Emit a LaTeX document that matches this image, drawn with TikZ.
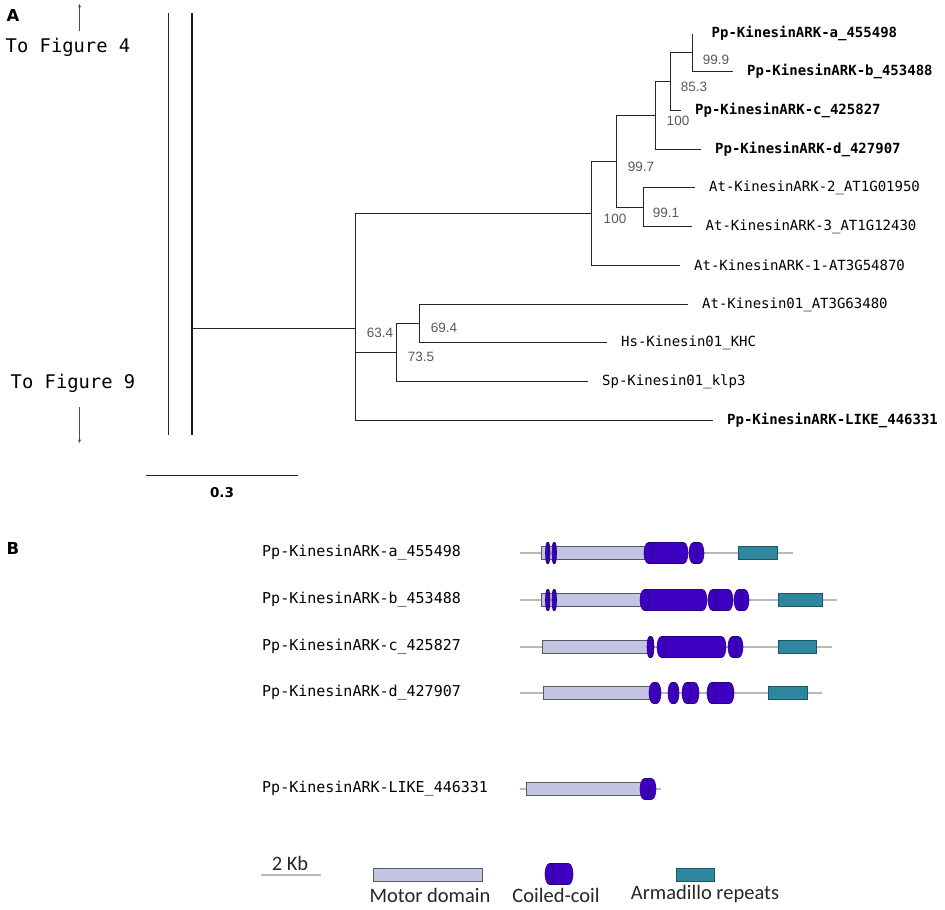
\documentclass[tikz,border=0pt]{standalone}
\usepackage{fontspec}
\setmainfont{Liberation Sans}
\newfontfamily\monofont{DejaVu Sans Mono}
\newfontfamily\panelfont{DejaVu Sans}
\newfontfamily\legfont{Carlito}
\usetikzlibrary{arrows.meta}
\definecolor{motorfill}{HTML}{C3C3E3}
\definecolor{coilfill}{HTML}{3D00C0}
\definecolor{coilline}{HTML}{2A0085}
\definecolor{armfill}{HTML}{2E879E}
\definecolor{armline}{HTML}{1E5565}
\tikzset{
  branch/.style={draw=black!85,line width=1.4pt},
  thinbar/.style={draw=black!85,line width=1.2pt},
  thickbar/.style={draw=black!90,line width=2.6pt},
  elbow/.style={to path={|- (\tikztotarget)}},
  leaf/.style={anchor=west,inner xsep=14pt,inner ysep=0pt,font=\monofont\fontsize{14}{16}\selectfont},
  ppleaf/.style={leaf,font=\monofont\bfseries\fontsize{14}{16}\selectfont},
  boot/.style={inner sep=0pt,text=black!65,font=\fontsize{13.5}{15}\selectfont},
  figtext/.style={inner sep=0pt,font=\monofont\fontsize{18.8}{21}\selectfont},
  figarrow/.style={draw=black!70,line width=0.8pt,-{Stealth[length=3.5pt,width=3pt]}},
  panel/.style={inner sep=0pt,font=\panelfont\bfseries\fontsize{16.5}{18}\selectfont},
  genelabel/.style={anchor=west,inner sep=0pt,font=\monofont\fontsize{15}{17}\selectfont},
  legendtext/.style={inner sep=0pt,text=black!85,font=\legfont\fontsize{20.5}{24}\selectfont},
  bbone/.style={draw=gray!60!black,line width=0.6pt,double=gray!55,double distance=1.7pt},
  motor/.style={draw=gray!70!black,fill=motorfill,line width=0.8pt},
  coil/.style={draw=coilline,fill=coilfill,line width=0.6pt},
  coilface/.style={draw=coilline!70!black,line width=0.5pt},
  armrep/.style={draw=armline,fill=armfill,line width=0.8pt}
}
\newcommand{\genebar}[3]{\draw[bbone] (#1,#3) -- (#2,#3);}
\newcommand{\motor}[3]{\draw[motor] (#1,#3-6.5) rectangle (#2,#3+6.5);}
\newcommand{\armad}[3]{\draw[armrep] (#1,#3-6.5) rectangle (#2,#3+6.5);}
\newcommand{\ccoil}[3]{%
  \pgfmathsetmacro\ccr{min(4.5,(#2-#1)*0.36)}%
  \draw[coil] (#1+\ccr,#3-10.5) -- (#2-\ccr,#3-10.5)
    arc[start angle=-90,end angle=90,x radius=\ccr,y radius=10.5]
    -- (#1+\ccr,#3+10.5)
    arc[start angle=90,end angle=270,x radius=\ccr,y radius=10.5] -- cycle;
  \draw[coilface] (#1+\ccr,#3-10.5) arc[start angle=-90,end angle=90,x radius=\ccr,y radius=10.5];}
\begin{document}
\begin{tikzpicture}[x=1pt,y=-1pt]
\useasboundingbox (0,0) rectangle (945,910);
\node[panel] (pa) at (13,15) {A};
\node[figtext] (fig4) at (68,47) {To Figure 4};
\node[figtext] (fig9) at (73,383) {To Figure 9};
\coordinate (u1) at (79.5,31);
\coordinate (u2) at (79.5,4);
\coordinate (d1) at (79.5,407);
\coordinate (d2) at (79.5,443);
\draw[figarrow] (u1) -- (u2);
\draw[figarrow] (d1) -- (d2);
\coordinate (t1) at (168.5,13);
\coordinate (t2) at (168.5,435);
\coordinate (k1) at (192,13);
\coordinate (k2) at (192,435);
\draw[thinbar] (t1) -- (t2);
\draw[thickbar] (k1) -- (k2);
\coordinate (base) at (192,328.5);
\coordinate (root) at (355.5,328.5);
\coordinate (n1) at (591.5,213.5);
\coordinate (n2) at (396.5,352.5);
\coordinate (n3) at (419.5,323.5);
\coordinate (n4) at (616.5,161.5);
\coordinate (n5) at (655.5,115.5);
\coordinate (n6) at (643.5,207.5);
\coordinate (n7) at (670.5,81.5);
\coordinate (n8) at (692.5,52.5);
\node[ppleaf] (a) at (692.5,33.5) {\hspace{5pt}Pp-KinesinARK-a\_455498};
\node[ppleaf] (b) at (733,71.5) {Pp-KinesinARK-b\_453488};
\node[ppleaf] (c) at (681,110.5) {Pp-KinesinARK-c\_425827};
\node[ppleaf] (d) at (701,149.5) {Pp-KinesinARK-d\_427907};
\node[leaf] (at2) at (695,187.5) {At-KinesinARK-2\_AT1G01950};
\node[leaf] (at3) at (691.5,226.5) {At-KinesinARK-3\_AT1G12430};
\node[leaf] (at1) at (680,265.5) {At-KinesinARK-1-AT3G54870};
\node[leaf] (kin) at (688,304.5) {At-Kinesin01\_AT3G63480};
\node[leaf] (hs) at (607,342.5) {Hs-Kinesin01\_KHC};
\node[leaf] (sp) at (588,381.5) {Sp-Kinesin01\_klp3};
\node[ppleaf] (like) at (713,420.5) {Pp-KinesinARK-LIKE\_446331};
\path[branch] (base) edge (root);
\path[branch] (root) edge[elbow] (n1) edge[elbow] (n2) edge[elbow] (like.west);
\path[branch] (n1) edge[elbow] (n4) edge[elbow] (at1.west);
\path[branch] (n4) edge[elbow] (n5) edge[elbow] (n6);
\path[branch] (n5) edge[elbow] (n7) edge[elbow] (d.west);
\path[branch] (n7) edge[elbow] (n8) edge[elbow] (c.west);
\path[branch] (n8) edge[elbow] (a.west) edge[elbow] (b.west);
\path[branch] (n6) edge[elbow] (at2.west) edge[elbow] (at3.west);
\path[branch] (n2) edge[elbow] (n3) edge[elbow] (sp.west);
\path[branch] (n3) edge[elbow] (kin.west) edge[elbow] (hs.west);
\node[boot] (bs1) at (716,60) {99.9};
\node[boot] (bs2) at (694,87) {85.3};
\node[boot] (bs3) at (678,121) {100};
\node[boot] (bs4) at (641,167) {99.7};
\node[boot] (bs5) at (666,213) {99.1};
\node[boot] (bs6) at (615,219) {100};
\node[boot] (bs7) at (380,333) {63.4};
\node[boot] (bs8) at (444,328) {69.4};
\node[boot] (bs9) at (421,357) {73.5};
\coordinate (s1) at (146,475.5);
\coordinate (s2) at (298,475.5);
\draw[branch] (s1) -- (s2);
\node[panel,font=\panelfont\bfseries\fontsize{13.5}{15}\selectfont] (scale) at (222,493) {0.3};
\node[panel] (pb) at (13,548) {B};
\node[genelabel] (ga) at (262,553) {Pp-KinesinARK-a\_455498};
\node[genelabel] (gb) at (262,600) {Pp-KinesinARK-b\_453488};
\node[genelabel] (gc) at (262,647) {Pp-KinesinARK-c\_425827};
\node[genelabel] (gd) at (262,693) {Pp-KinesinARK-d\_427907};
\node[genelabel] (glike) at (262,789) {Pp-KinesinARK-LIKE\_446331};
\genebar{520}{793}{553}
\motor{541}{647}{553}
\ccoil{545.5}{550}{553}
\ccoil{552}{556.5}{553}
\ccoil{644}{688}{553}
\ccoil{689}{704}{553}
\armad{738}{777}{553}
\genebar{520}{837}{600}
\motor{541}{643}{600}
\ccoil{545.5}{550}{600}
\ccoil{552}{556.5}{600}
\ccoil{640}{707}{600}
\ccoil{708}{733}{600}
\ccoil{734}{749}{600}
\armad{778}{822}{600}
\genebar{520}{832}{647}
\motor{542}{648}{647}
\ccoil{647}{654}{647}
\ccoil{657}{726}{647}
\ccoil{728}{743}{647}
\armad{778}{816}{647}
\genebar{520}{822}{693}
\motor{543}{650}{693}
\ccoil{649}{661}{693}
\ccoil{668}{679}{693}
\ccoil{682}{699}{693}
\ccoil{707}{734}{693}
\armad{768}{807}{693}
\genebar{520}{661}{789}
\motor{526}{642}{789}
\ccoil{640}{656}{789}
\coordinate (kb1) at (261,875);
\coordinate (kb2) at (321,875);
\draw[bbone] (kb1) -- (kb2);
\node[legendtext] (kb) at (290,863) {2 Kb};
\motor{373}{482}{874.5}
\ccoil{545}{573}{874}
\armad{676}{714}{874.5}
\node[legendtext] (lmotor) at (430,895) {Motor domain};
\node[legendtext] (lcoil) at (556,895) {Coiled-coil};
\node[legendtext] (larm) at (705,894) {Armadillo repeats};
\end{tikzpicture}
\end{document}
